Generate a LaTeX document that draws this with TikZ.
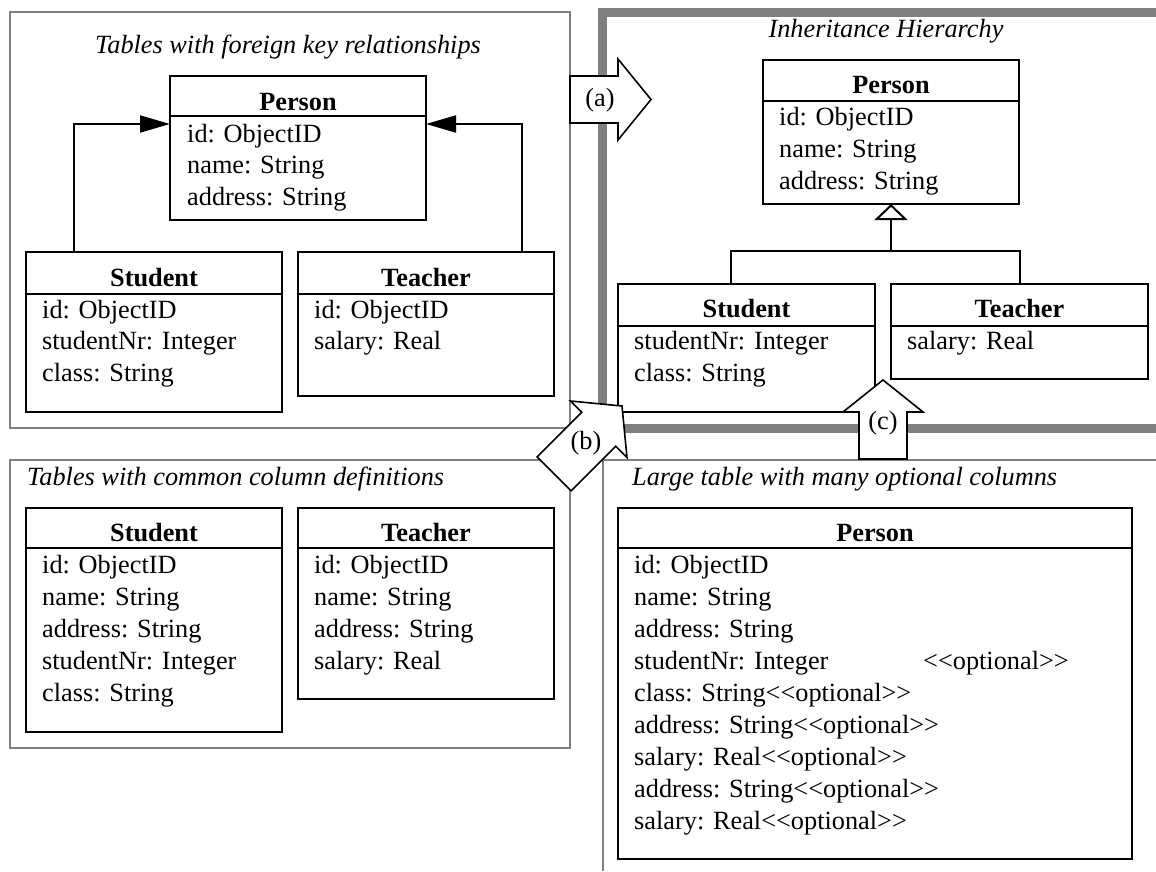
\documentclass[tikz,border=0pt]{standalone}
\usepackage{fontspec}
\setmainfont{Liberation Serif}
\usetikzlibrary{arrows.meta}
\definecolor{framegray}{RGB}{128,128,128}
\newcommand\tf{\fontsize{26.3pt}{31.5pt}\selectfont}
\newcommand\opt{<\kern0pt<optional>\kern0pt>}
\newcommand\attrlist[5]{\foreach \txt [count=\i] in {#5} {\node[attr] (#1-\i) at (#2,{#3+#4*(\i-1)}) {\txt};}}
\begin{document}
\begin{tikzpicture}[x=1pt,y=-1pt,
 tbox/.style={draw, line width=2pt, rectangle, anchor=north west, inner sep=0pt, outer sep=0pt, fill=white},
 attr/.style={anchor=base west, inner sep=0pt, font=\tf},
 hdr/.style={anchor=base, inner sep=0pt, font=\tf\bfseries},
 ttl/.style={inner sep=0pt, font=\tf\itshape},
 grayframe/.style={draw=framegray, line width=2pt},
 thickframe/.style={draw=framegray, line width=9pt},
 divider/.style={line width=2pt},
 blk/.style={draw, fill=white, line width=1.6pt, line join=miter},
 lbl/.style={inner sep=0pt, font=\tf},
 fk/.style={line width=2pt, -{Triangle[length=30pt,width=17pt]}},
 gen/.style={line width=2pt, -{Triangle[open,length=16pt,width=33pt,fill=white]}},
]
\useasboundingbox (0,0) rectangle (1156,871);

% ---------------- frames ----------------
\draw[grayframe] (10,12) rectangle (570,428);
\draw[thickframe] (1156,12.5) -- (602.5,12.5) -- (602.5,428) -- (1156,428);
\draw[grayframe] (10,460) rectangle (570,748);
\draw[grayframe] (1156,460) -- (603,460) -- (603,871);

\node[ttl, anchor=base] (t1) at (288,53) {Tables with foreign key relationships};
\node[ttl, anchor=base] (t2) at (886,37) {Inheritance Hierarchy};
\node[ttl, anchor=base west] (t3) at (27,485) {Tables with common column definitions};
\node[ttl, anchor=base west] (t4) at (632,485) {Large table with many optional columns};

% ---------------- frame 1: foreign keys ----------------
\node[tbox, minimum width=256pt, minimum height=144pt] (pe1) at (170,76) {};
\draw[divider] ([yshift=-40pt]pe1.north west) -- ([yshift=-40pt]pe1.north east);
\node[hdr] (pe1-h) at (298,110) {Person};
\attrlist{pe1}{187}{142}{31.5}{id: ObjectID, name: String, address: String}

\node[tbox, minimum width=256pt, minimum height=160pt] (st1) at (26,252) {};
\draw[divider] ([yshift=-42pt]st1.north west) -- ([yshift=-42pt]st1.north east);
\node[hdr] (st1-h) at (154,286) {Student};
\attrlist{st1}{42}{318}{31.5}{id: ObjectID, studentNr: Integer, class: String}

\node[tbox, minimum width=256pt, minimum height=144pt] (te1) at (298,252) {};
\draw[divider] ([yshift=-42pt]te1.north west) -- ([yshift=-42pt]te1.north east);
\node[hdr] (te1-h) at (426,286) {Teacher};
\attrlist{te1}{314}{318}{31.5}{id: ObjectID, salary: Real}

\draw[fk] ([xshift=48pt]st1.north west) |- ([yshift=-48pt]pe1.north west);
\draw[fk] ([xshift=-32pt]te1.north east) |- ([yshift=-48pt]pe1.north east);

% ---------------- frame 2: inheritance ----------------
\node[tbox, minimum width=256pt, minimum height=144pt] (pe2) at (763,60) {};
\draw[divider] ([yshift=-41pt]pe2.north west) -- ([yshift=-41pt]pe2.north east);
\node[hdr] (pe2-h) at (891,93) {Person};
\attrlist{pe2}{779}{125}{32}{id: ObjectID, name: String, address: String}

\node[tbox, minimum width=257pt, minimum height=128pt] (st2) at (618,284) {};
\draw[divider] ([yshift=-42pt]st2.north west) -- ([yshift=-42pt]st2.north east);
\node[hdr] (st2-h) at (746.5,317) {Student};
\attrlist{st2}{634}{349}{32}{studentNr: Integer, class: String}

\node[tbox, minimum width=257pt, minimum height=95pt] (te2) at (891,284) {};
\draw[divider] ([yshift=-42pt]te2.north west) -- ([yshift=-42pt]te2.north east);
\node[hdr] (te2-h) at (1019.5,317) {Teacher};
\attrlist{te2}{907}{349}{32}{salary: Real}

\coordinate (j2) at (891,251);
\draw[line width=2pt] ([xshift=113pt]st2.north west) |- (j2) -| (te2.north);
\draw[gen] (j2) -- (pe2.south);

% ---------------- frame 3: common columns ----------------
\node[tbox, minimum width=256pt, minimum height=224pt] (st3) at (26,508) {};
\draw[divider] ([yshift=-40pt]st3.north west) -- ([yshift=-40pt]st3.north east);
\node[hdr] (st3-h) at (154,541) {Student};
\attrlist{st3}{42}{573}{32}{id: ObjectID, name: String, address: String, studentNr: Integer, class: String}

\node[tbox, minimum width=256pt, minimum height=191pt] (te3) at (298,508) {};
\draw[divider] ([yshift=-40pt]te3.north west) -- ([yshift=-40pt]te3.north east);
\node[hdr] (te3-h) at (426,541) {Teacher};
\attrlist{te3}{314}{573}{32}{id: ObjectID, name: String, address: String, salary: Real}

% ---------------- frame 4: large table ----------------
\node[tbox, minimum width=514pt, minimum height=351pt] (pe4) at (618,508) {};
\draw[divider] ([yshift=-40pt]pe4.north west) -- ([yshift=-40pt]pe4.north east);
\node[hdr] (pe4-h) at (875,541) {Person};
\attrlist{pe4}{634}{573}{32}{id: ObjectID, name: String, address: String, studentNr: Integer, class: String\opt, address: String\opt, salary: Real\opt, address: String\opt, salary: Real\opt}
\node[attr] (pe4-opt) at (923,669) {\opt};

% ---------------- block arrows ----------------
\draw[blk] (570,76) -- (618,76) -- (618,59) -- (651,99.5) -- (618,140) -- (618,123) -- (570,123) -- cycle;
\node[lbl] (la) at (600,100) {(a)};

\draw[blk] (537.2,456.9) -- (581.7,412.3) -- (570.4,401) -- (622,406) -- (627,457.6) -- (615.7,446.3) -- (571.1,490.8) -- cycle;
\node[lbl] (lb) at (586,443) {(b)};

\draw[blk] (859,459) -- (859,412) -- (843,412) -- (883,380) -- (923,412) -- (907,412) -- (907,459) -- cycle;
\node[lbl] (lc) at (883,423) {(c)};
\end{tikzpicture}
\end{document}
